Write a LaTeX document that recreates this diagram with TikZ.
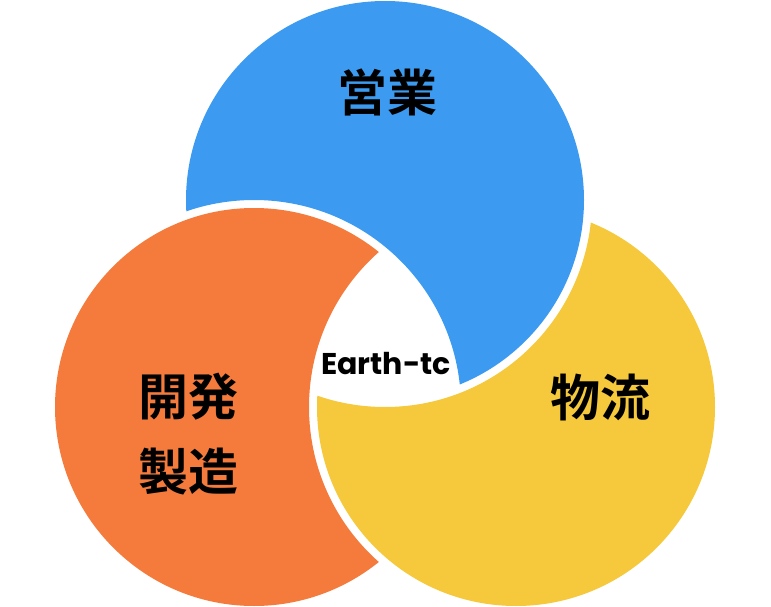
\documentclass[tikz,border=0pt]{standalone}
\usepackage{fontspec}
\newfontfamily\cjk{Noto Sans CJK JP}[BoldFont={* Bold}]
\newfontfamily\pop{Poppins}[BoldFont={* Bold}]
\definecolor{cblue}{HTML}{3C9BF0}
\definecolor{corange}{HTML}{F47B3C}
\definecolor{cyellow}{HTML}{F6C83B}
\begin{document}
\begin{tikzpicture}[x=1pt,y=-1pt,
  lbl/.style={font=\cjk\bfseries\fontsize{50}{75}\selectfont, align=center}]
\useasboundingbox (0,0) rectangle (771,607);
\def\R{199}\def\G{207}
\coordinate (b) at (385,200);
\coordinate (o) at (254,407);
\coordinate (y) at (516,407);
% blue minus orange
\begin{scope}[even odd rule]
\clip (-50,-50) rectangle (820,660) (o) circle (\G);
\fill[cblue] (b) circle (\R);
\end{scope}
% orange minus yellow
\begin{scope}[even odd rule]
\clip (-50,-50) rectangle (820,660) (y) circle (\G);
\fill[corange] (o) circle (\R);
\end{scope}
% yellow minus blue
\begin{scope}[even odd rule]
\clip (-50,-50) rectangle (820,660) (b) circle (\G);
\fill[cyellow] (y) circle (\R);
\end{scope}
\node[lbl] (t1) at (387,92) {営業};
\node[lbl] (t2) at (188,434) {開発\\製造};
\node[lbl] (t3) at (600,397) {物流};
\node[font=\pop\bfseries\fontsize{30}{33}\selectfont] (c) at (386,364) {Earth-tc};
\end{tikzpicture}
\end{document}
